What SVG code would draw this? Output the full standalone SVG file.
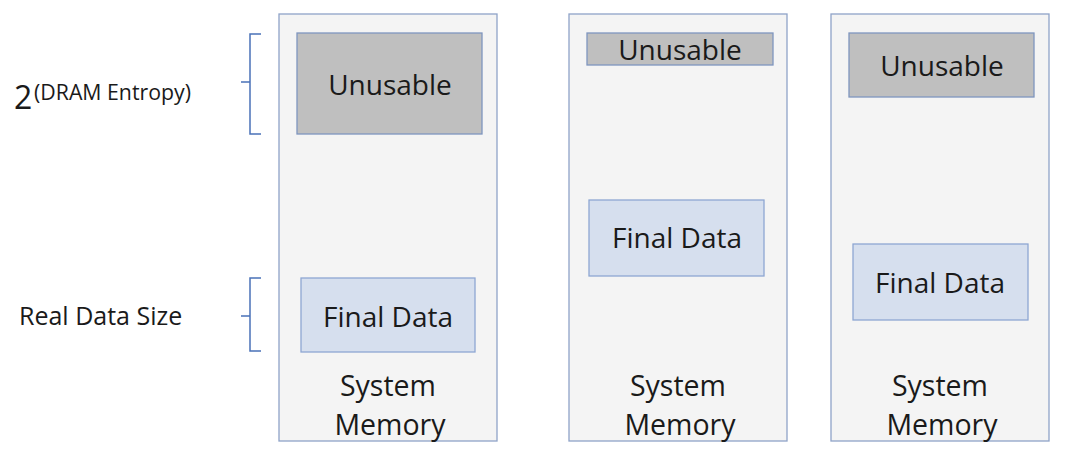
<svg xmlns="http://www.w3.org/2000/svg" width="1065" height="451" viewBox="0 0 1065 451">
<style>
.mem{fill:#f4f4f4;stroke:#8fa3c8;stroke-width:1.3}
.unu{fill:#bfbfbf;stroke:#7f96bf;stroke-width:1.3}
.fin{fill:#d6dfee;stroke:#8ea7d3;stroke-width:1.3}
.t{font-family:"Open Sans","Liberation Sans",sans-serif;fill:#1a1a1a;text-anchor:middle;font-size:28px}
.s{font-size:28.5px}
.lab{font-family:"Open Sans","Liberation Sans",sans-serif;fill:#1a1a1a}
.brace{fill:none;stroke:#4a72b8;stroke-width:1.5}
</style>
<rect width="1065" height="451" fill="#ffffff"/>
<g id="labels">
<text class="lab" x="14" y="109" font-size="32">2</text>
<text class="lab" x="34" y="100" font-size="21.3">(DRAM Entropy)</text>
<text class="lab" x="19" y="325" font-size="25">Real Data Size</text>
</g>
<g id="braces">
<path class="brace" d="M261,34 H250 V82 H241 M250,82 V134 H261"/>
<path class="brace" d="M261,278 H250 V316 H241 M250,316 V351 H261"/>
</g>
<g id="mem1">
<rect class="mem" x="279" y="14" width="218" height="427"/>
<rect class="unu" x="297" y="33" width="185" height="101"/>
<text class="t" x="390" y="95">Unusable</text>
<rect class="fin" x="301" y="278" width="174" height="74"/>
<text class="t" x="388" y="327">Final Data</text>
<text class="t s" x="388" y="396">System</text>
<text class="t s" x="390" y="435">Memory</text>
</g>
<g id="mem2">
<rect class="mem" x="569" y="14" width="218" height="427"/>
<rect class="unu" x="587" y="33" width="186" height="32"/>
<text class="t" x="680" y="60">Unusable</text>
<rect class="fin" x="589" y="200" width="175" height="76"/>
<text class="t" x="677" y="248">Final Data</text>
<text class="t s" x="678" y="396">System</text>
<text class="t s" x="680" y="435">Memory</text>
</g>
<g id="mem3">
<rect class="mem" x="831" y="14" width="218" height="427"/>
<rect class="unu" x="849" y="33" width="185" height="64"/>
<text class="t" x="942" y="76">Unusable</text>
<rect class="fin" x="853" y="244" width="175" height="76"/>
<text class="t" x="940" y="293">Final Data</text>
<text class="t s" x="940" y="396">System</text>
<text class="t s" x="942" y="435">Memory</text>
</g>
</svg>
